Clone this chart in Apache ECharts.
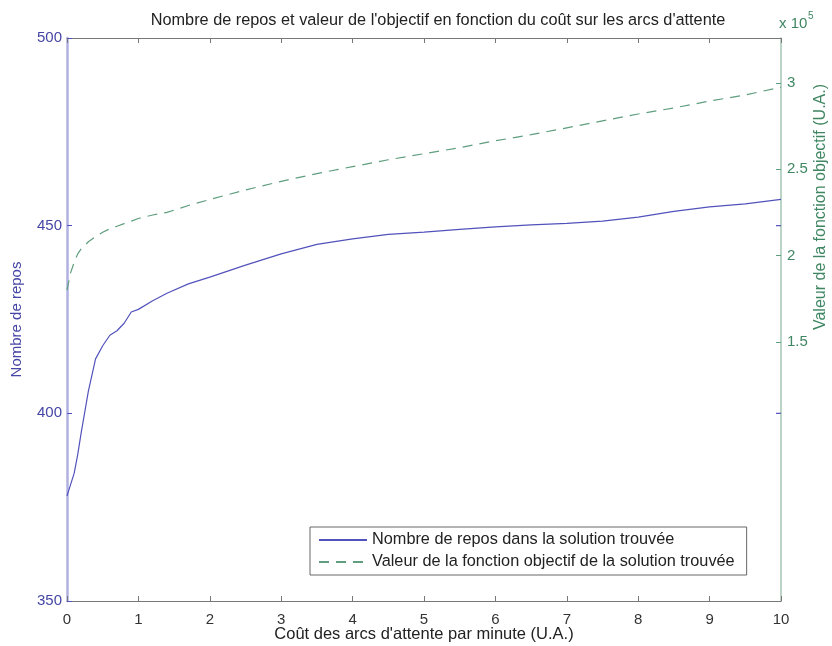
<!DOCTYPE html>
<html>
<head>
<meta charset="utf-8">
<script src="https://cdn.jsdelivr.net/npm/echarts@6/dist/echarts.min.js"></script>
<style>html,body{margin:0;padding:0;background:#fff;}#c{width:832px;height:646px;}</style>
</head>
<body>
<div id="c"></div>
<script>
var costs = [0, 0.05, 0.1, 0.15, 0.2, 0.3, 0.4, 0.5, 0.6, 0.7, 0.8, 0.9, 1.0, 1.2, 1.4, 1.7, 2.0, 2.5, 3.0, 3.5, 4.0, 4.5, 5.0, 5.5, 6.0, 6.5, 7.0, 7.5, 8.0, 8.5, 9.0, 9.5, 10];
var repos = [378, 381, 384, 389, 395, 406, 414.5, 418, 420.8, 422, 424, 427, 427.7, 430, 432, 434.5, 436.3, 439.5, 442.5, 445, 446.5, 447.7, 448.3, 449, 449.7, 450.2, 450.6, 451.2, 452.3, 453.8, 455, 455.8, 457];
var objective = [180000, 190000, 196000, 201000, 204000, 208000, 211000, 213500, 215500, 217000, 218500, 220000, 221500, 223500, 225000, 229000, 232500, 238000, 243000, 247500, 251500, 255500, 259000, 262500, 266500, 270000, 274000, 278000, 282000, 285500, 289500, 293000, 297500];
var xTicks = [0, 1, 2, 3, 4, 5, 6, 7, 8, 9, 10];
var leftTicks = [350, 400, 450, 500];
var rightTicks = [150000, 200000, 250000, 300000];
var seriesNames = ['Nombre de repos dans la solution trouvée', 'Valeur de la fonction objectif de la solution trouvée'];

var FONT = 'Liberation Sans, Arial, sans-serif';
var BLUE = '#5252bc';
var BLUE_TXT = '#4646a6';
var GREEN = '#5f9e7e';
var GREEN_TXT = '#3f8662';
var GRID = {left: 67, right: 51, top: 38, bottom: 45, containLabel: false, outerBoundsMode: 'none'};
var xMax = xTicks[xTicks.length - 1];

var chart = echarts.init(document.getElementById('c'), null, {renderer: 'canvas'});
chart.setOption({
  animation: false,
  backgroundColor: '#fff',
  textStyle: {fontFamily: FONT},
  title: {
    text: "Nombre de repos et valeur de l'objectif en fonction du coût sur les arcs d'attente",
    left: 433, top: 8, textAlign: 'center',
    textStyle: {fontSize: 16.3, fontWeight: 'normal', color: '#222', fontFamily: FONT}
  },
  grid: [Object.assign({}, GRID), Object.assign({}, GRID)],
  legend: {
    data: seriesNames,
    orient: 'vertical',
    left: 310, top: 527,
    itemWidth: 48, itemHeight: 10, itemGap: 6,
    padding: [5, 12, 5, 8],
    backgroundColor: '#fff',
    borderColor: '#666', borderWidth: 1,
    itemStyle: {opacity: 0},
    textStyle: {fontSize: 16.3, color: '#222', fontFamily: FONT}
  },
  xAxis: [{
    gridIndex: 0,
    type: 'value', min: xTicks[0], max: xMax, interval: 1,
    position: 'bottom',
    axisLine: {lineStyle: {color: '#777', width: 1}},
    axisTick: {inside: true, length: 5, lineStyle: {color: '#777'}},
    axisLabel: {color: '#333', fontSize: 15, margin: 11, fontFamily: FONT},
    splitLine: {show: false},
    name: "Coût des arcs d'attente par minute (U.A.)",
    nameLocation: 'middle', nameGap: 25, nameMoveOverlap: false,
    nameTextStyle: {fontSize: 16.5, color: '#222', fontFamily: FONT}
  }, {
    gridIndex: 1,
    type: 'value', min: xTicks[0], max: xMax, interval: 1,
    position: 'top',
    axisLine: {lineStyle: {color: '#777', width: 1}},
    axisTick: {inside: true, length: 5, lineStyle: {color: '#777'}},
    axisLabel: {show: false},
    splitLine: {show: false}
  }],
  yAxis: [{
    gridIndex: 0,
    type: 'value', min: leftTicks[0], max: leftTicks[leftTicks.length - 1], interval: 50,
    position: 'left',
    axisLine: {show: true, lineStyle: {color: '#b0b0e2', width: 2.5}},
    axisTick: {show: true, inside: true, length: 5, lineStyle: {color: BLUE}},
    axisLabel: {color: BLUE_TXT, fontSize: 15, margin: 5, fontFamily: FONT},
    splitLine: {show: false},
    name: 'Nombre de repos', nameLocation: 'middle', nameGap: 43, nameMoveOverlap: false,
    nameTextStyle: {color: BLUE_TXT, fontSize: 15, fontFamily: FONT}
  }, {
    gridIndex: 0,
    type: 'value', min: 0, max: 326000,
    position: 'right',
    axisLine: {show: true, lineStyle: {color: '#a6c6b6', width: 1.5}},
    axisTick: {show: true, inside: true, length: 5, customValues: rightTicks, lineStyle: {color: GREEN}},
    axisLabel: {color: GREEN_TXT, fontSize: 15, margin: 6, customValues: rightTicks, fontFamily: FONT,
      formatter: function (v) { return String(v / 1e5); }},
    splitLine: {show: false}
  }, {
    gridIndex: 1,
    type: 'value', min: leftTicks[0], max: leftTicks[leftTicks.length - 1], interval: 50,
    position: 'right',
    axisLine: {show: false},
    axisTick: {show: false},
    axisLabel: {show: false},
    splitLine: {show: false}
  }],
  series: [{
    name: seriesNames[0], type: 'line', xAxisIndex: 0, yAxisIndex: 0,
    data: costs.map(function (c, i) { return [c, repos[i]]; }),
    symbol: 'none', smooth: false,
    lineStyle: {color: BLUE, width: 1.2},
    itemStyle: {color: BLUE}
  }, {
    name: seriesNames[1], type: 'line', xAxisIndex: 0, yAxisIndex: 1,
    data: costs.map(function (c, i) { return [c, objective[i]]; }),
    symbol: 'none', smooth: false,
    lineStyle: {color: GREEN, width: 1.2, type: [10, 7]},
    itemStyle: {color: GREEN}
  }, {
    name: 'mirrorTicks', type: 'custom', xAxisIndex: 0, yAxisIndex: 0,
    silent: true, z: 5,
    data: leftTicks.slice(1, leftTicks.length - 1).map(function (v) { return [xMax, v]; }),
    renderItem: function (params, api) {
      var p = api.coord([api.value(0), api.value(1)]);
      return {type: 'line', shape: {x1: p[0] - 5, y1: p[1], x2: p[0], y2: p[1]},
        style: {stroke: BLUE, lineWidth: 1.2}};
    }
  }],
  graphic: [{
    type: 'text', x: 821, y: 207, rotation: Math.PI / 2,
    style: {text: 'Valeur de la fonction objectif (U.A.)', fill: GREEN_TXT, font: '16px ' + FONT,
      textAlign: 'center', textVerticalAlign: 'middle'}
  }, {
    type: 'text', x: 779, y: 24,
    style: {text: 'x 10', fill: GREEN_TXT, font: '15px ' + FONT, textAlign: 'left', textVerticalAlign: 'middle'}
  }, {
    type: 'text', x: 808, y: 16,
    style: {text: '5', fill: GREEN_TXT, font: '10px ' + FONT, textAlign: 'left', textVerticalAlign: 'middle'}
  }]
});
</script>
</body>
</html>
